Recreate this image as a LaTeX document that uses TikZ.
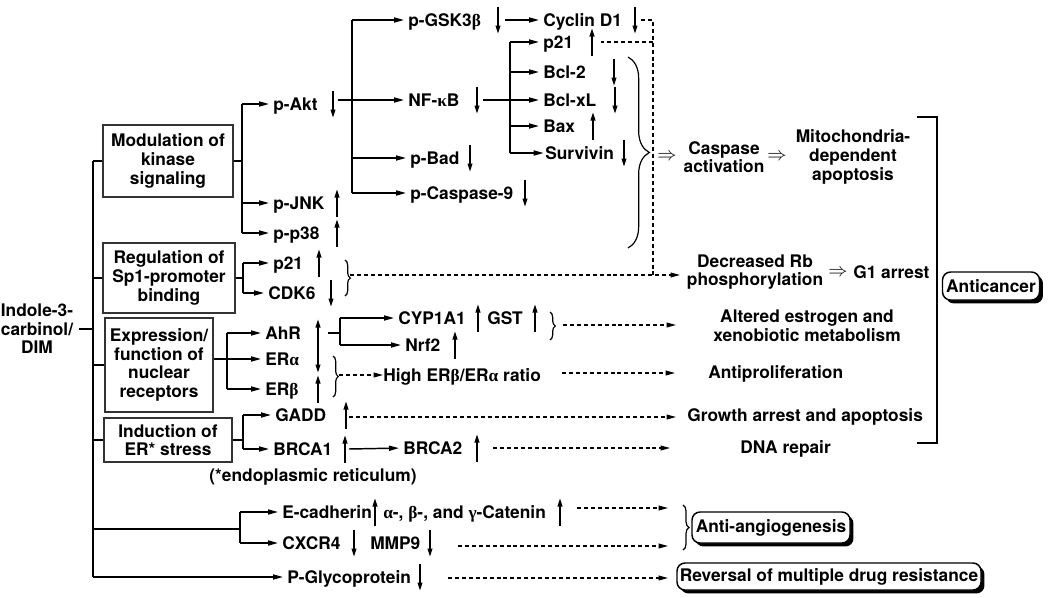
\documentclass[tikz,border=0pt]{standalone}
\usepackage{fontspec}
\setmainfont{TeX Gyre Heros}
\newfontfamily\grk{Liberation Serif}
\usetikzlibrary{arrows.meta,decorations.pathreplacing,shadows,calc}
\newcommand\dfont{\fontsize{13}{14}\selectfont\bfseries}
\newcommand\uparr[2]{\draw[indic] (#1,#2+13.5) -- (#1,#2-13.5);}
\newcommand\dnarr[2]{\draw[indic] (#1,#2-13.5) -- (#1,#2+13.5);}
\begin{document}
\begin{tikzpicture}[x=0.75pt,y=-0.75pt,
  ln/.style={line width=1.1pt},
  arr/.style={line width=1.1pt,-{Triangle[length=7.5pt,width=3.8pt]},shorten >=3pt},
  dsh/.style={line width=0.9pt,dash pattern=on 3pt off 2.2pt},
  darr/.style={dsh,-{Triangle[length=7pt,width=3.6pt]}},
  indic/.style={line width=1pt,-{Triangle[length=6pt,width=3.6pt]}},
  tx/.style={inner sep=0pt,anchor=west,text height=9.3pt,text depth=0pt,font=\dfont},
  ml/.style={inner sep=0pt,align=center,font=\dfont},
  impl/.style={inner sep=0pt,font=\fontsize{14}{14}\selectfont},
  lbox/.style={draw=black!80,line width=1.1pt,inner sep=0pt,align=center,font=\dfont},
  rbox/.style={draw,line width=1.1pt,rounded corners=6pt,fill=white,inner sep=0pt,font=\dfont,
    drop shadow={shadow xshift=2.6pt,shadow yshift=-2.6pt,opacity=1,fill=black}},
  brc/.style={decorate,decoration={brace,amplitude=#1},line width=0.9pt}
]
\useasboundingbox (0,0) rectangle (1050,597);

% ---------- source and category boxes
\node[ml] (src) at (37,329) {Indole-3-\\carbinol/\\DIM};
\node[lbox,minimum width=97.5pt,minimum height=54pt] (mod) at (168,161) {Modulation of\\kinase\\signaling};
\node[lbox,minimum width=99pt,minimum height=52.5pt] (reg) at (169,278) {Regulation of\\Sp1-promoter\\binding};
\node[lbox,minimum width=81pt,minimum height=70.5pt] (expr) at (159,365) {Expression/\\function of\\nuclear\\receptors};
\node[lbox,minimum width=96pt,minimum height=33pt] (ers) at (168,440) {Induction of\\ER* stress};

% ---------- text nodes
\node[tx] (akt) at (273,104) {p-Akt};
\node[tx] (jnk) at (273,203) {p-JNK};
\node[tx] (p38) at (273,233) {p-p38};
\node[tx] (gsk) at (408,20) {p-GSK3{\grk β}};
\node[tx] (nfkb) at (408,100) {NF-{\grk κ}B};
\node[tx] (bad) at (410,158) {p-Bad};
\node[tx] (c9) at (410,193) {p-Caspase-9};
\node[tx] (cyc) at (543,20) {Cyclin D1};
\node[tx] (p21a) at (543,42) {p21};
\node[tx] (bcl2) at (543,72) {Bcl-2};
\node[tx] (bclxl) at (543,100) {Bcl-xL};
\node[tx] (bax) at (543,126) {Bax};
\node[tx] (surv) at (545,153) {Survivin};
\node[tx] (p21b) at (273,263) {p21};
\node[tx] (cdk6) at (268,293) {CDK6};
\node[tx] (ahr) at (265,333) {AhR};
\node[tx] (era) at (265,359) {ER{\grk α}};
\node[tx] (erb) at (265,389) {ER{\grk β}};
\node[tx] (cyp) at (398,318) {CYP1A1};
\node[tx] (gst) at (487,318) {GST};
\node[tx] (nrf) at (405,345) {Nrf2};
\node[tx] (high) at (383,375) {High ER{\grk β}/ER{\grk α} ratio};
\node[tx] (gadd) at (275,415) {GADD};
\node[tx] (brca1) at (273,449) {BRCA1};
\node[tx] (brca2) at (403,448) {BRCA2};
\node[ml] (note) at (313,477) {(*endoplasmic reticulum)};
\node[tx] (ecad) at (282,512) {E-cadherin};
\node[tx] (cat) at (383,512) {{\grk α}-, {\grk β}-, and {\grk γ}-Catenin};
\node[tx] (cxcr) at (282,543) {CXCR4};
\node[tx] (mmp) at (370,543) {MMP9};
\node[tx] (pgly) at (287,577) {P-Glycoprotein};

% ---------- outcome nodes
\node[impl] (imp1) at (667,157) {$\Rightarrow$};
\node[ml] (caspact) at (724,157) {Caspase\\activation};
\node[impl] (imp2) at (777,157) {$\Rightarrow$};
\node[ml] (mito) at (853,157) {Mitochondria-\\dependent\\apoptosis};
\node[ml] (decr) at (755,272) {Decreased Rb\\phosphorylation};
\node[impl] (imp3) at (838,273) {$\Rightarrow$};
\node[tx] (g1) at (853,272) {G1 arrest};
\node[ml] (alt) at (807,326) {Altered estrogen and\\xenobiotic metabolism};
\node[tx] (antip) at (708,372) {Antiproliferation};
\node[tx] (growth) at (687,415) {Growth arrest and apoptosis};
\node[tx] (dna) at (740,447) {DNA repair};
\node[rbox,minimum width=72.75pt,minimum height=21pt] (anti) at (991,286) {Anticancer};
\node[rbox,minimum width=118.5pt,minimum height=23.25pt] (angio) at (771,527.5) {Anti-angiogenesis};
\node[rbox,minimum width=228pt,minimum height=20.25pt] (rev) at (829,576.5) {Reversal of multiple drug resistance};

% ---------- up / down indicators
\dnarr{333}{104} \uparr{337}{203} \uparr{337}{233}
\dnarr{498}{20} \dnarr{477}{100} \dnarr{470}{158} \dnarr{525}{193}
\dnarr{635}{20} \uparr{592}{42} \dnarr{614}{72} \dnarr{615}{100} \uparr{593}{126} \dnarr{624}{153}
\uparr{319}{263} \dnarr{331}{293}
\uparr{318}{333} \dnarr{318}{359} \uparr{318}{389}
\uparr{478}{318} \uparr{535}{318} \uparr{455}{345}
\uparr{346}{415} \uparr{345}{449} \uparr{477}{448}
\uparr{375}{512} \uparr{560}{512} \dnarr{354}{543} \dnarr{430}{543} \dnarr{420}{577}

% ---------- helper coordinates
\coordinate (M) at (93,0);
\coordinate (K) at (242,0);
\coordinate (A) at (352,0);
\coordinate (N) at (510,0);
\coordinate (S) at (243,0);
\coordinate (X) at (227,0);
\coordinate (AH) at (340,0);
\coordinate (I) at (243,0);
\coordinate (E) at (240,0);
\coordinate (DV) at (653,0);
\coordinate (aktout) at (338,100);
\coordinate (gskout) at (505,20);
\coordinate (nfout) at (483,100);
\coordinate (cycout) at (641,20);
\coordinate (p21in) at (601,42);
\coordinate (ahrout) at (328,333);
\coordinate (b1out) at (349,449);
\coordinate (ecb) at (93,529);

% ---------- main trunk
\draw[ln] ([xshift=4pt]src.east) -- (src.east -| M);
\draw[ln] (M |- mod.west) -- (M |- pgly.west);
\draw[ln] (mod.west -| M) -- (mod.west);
\draw[ln] (reg.west -| M) -- (reg.west);
\draw[ln] (expr.west -| M) -- (expr.west);
\draw[ln] (ers.west -| M) -- (ers.west);

% kinase
\draw[ln] (mod.east) -- (mod.east -| K);
\draw[ln] (K |- akt.west) -- (K |- p38.west);
\draw[arr] (K |- akt.west) -- (akt.west);
\draw[arr] (K |- jnk.west) -- (jnk.west);
\draw[arr] (K |- p38.west) -- (p38.west);
% akt
\draw[arr] (aktout) -- (nfkb.west);
\draw[ln] (A |- gsk.west) -- (A |- c9.west);
\draw[arr] (A |- gsk.west) -- (gsk.west);
\draw[arr] (A |- bad.west) -- (bad.west);
\draw[arr] (A |- c9.west) -- (c9.west);
\draw[arr] (gskout) -- (cyc.west);
% nfkb
\draw[arr] (nfout) -- (bclxl.west);
\draw[ln] (N |- p21a.west) -- (N |- surv.west);
\draw[arr] (N |- p21a.west) -- (p21a.west);
\draw[arr] (N |- bcl2.west) -- (bcl2.west);
\draw[arr] (N |- bax.west) -- (bax.west);
\draw[arr,shorten >=1pt] (N |- surv.west) -- (surv.west);
\draw[brc=16pt] (628,57) -- (628,248);
% dashed from cyclin D1
\draw[dsh] (cycout) -- (DV |- cycout) -- (653,275);
\draw[dsh] (DV |- p21in) -- (p21in);

% Sp1
\draw[ln] (reg.east) -- (reg.east -| S);
\draw[ln] (S |- p21b.west) -- (S |- cdk6.west);
\draw[arr] (S |- p21b.west) -- (p21b.west);
\draw[arr] (S |- cdk6.west) -- (cdk6.west);
\draw[brc=4pt] (345,260) -- (345,296);
\draw[darr] (350,275) -- (680,275);

% nuclear receptors
\draw[ln] (expr.east |- era.west) -- (X |- era.west);
\draw[ln] (X |- ahr.west) -- (X |- erb.west);
\draw[arr] (X |- ahr.west) -- (ahr.west);
\draw[arr] (X |- era.west) -- (era.west);
\draw[arr] (X |- erb.west) -- (erb.west);
\draw[ln] (ahrout) -- (AH |- ahrout);
\draw[ln] (AH |- cyp.west) -- (AH |- nrf.west);
\draw[arr] (AH |- cyp.west) -- (cyp.west);
\draw[arr] (AH |- nrf.west) -- (nrf.west);
\draw[brc=4pt] (550,312) -- (550,340);
\draw[darr] (563,325) -- (676,325);
\draw[brc=4pt] (333,356) -- (333,397);
\draw[darr] (339,375) -- (high.west);
\draw[darr] (562,373) -- (675,373);

% ER stress
\draw[ln] (ers.east) -- (ers.east -| I);
\draw[ln] (I |- gadd.west) -- (I |- brca1.west);
\draw[arr] (I |- gadd.west) -- (gadd.west);
\draw[arr] (I |- brca1.west) -- (brca1.west);
\draw[darr] (349,417) -- (676,417);
\draw[arr] (b1out) -- (brca2.west);
\draw[darr] (493,448) -- (670,448);

% anticancer bracket
\draw[ln] (917,117) -- (937,117) -- (937,443) -- (917,443);

% bottom branches
\draw[ln] (ecb) -- (E |- ecb);
\draw[ln] (E |- ecad.west) -- (E |- cxcr.west);
\draw[arr] (E |- ecad.west) -- (ecad.west);
\draw[arr] (E |- cxcr.west) -- (cxcr.west);
\draw[darr] (577,508) -- (668,508);
\draw[darr] (458,546) -- (668,546);
\draw[brc=4.5pt] (683,505) -- (683,550);
\draw[arr] (M |- pgly.west) -- (pgly.west);
\draw[darr] (448,578) -- (668,578);
\end{tikzpicture}
\end{document}
